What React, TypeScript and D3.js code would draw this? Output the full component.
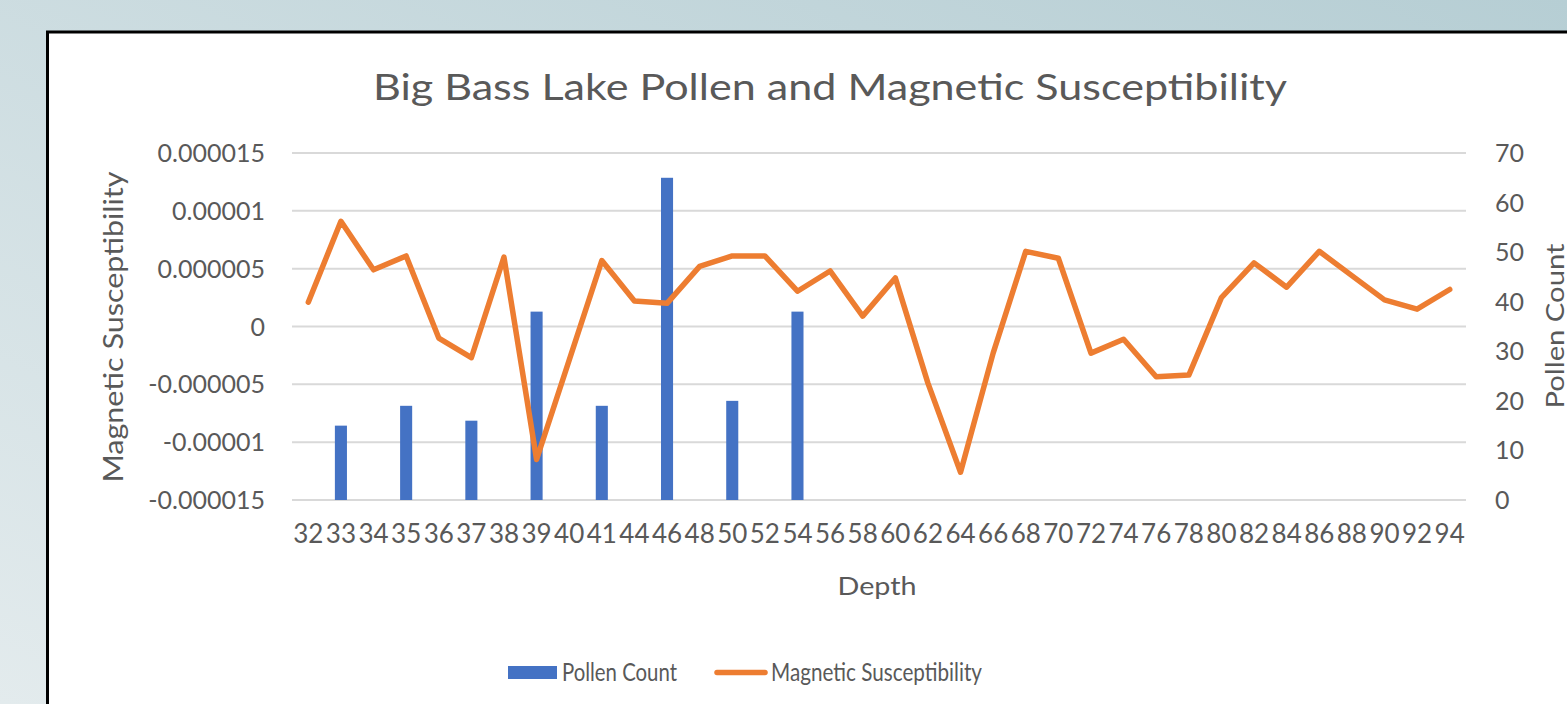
import React from "react";
import * as d3 from "d3";

const depths: string[] = [
  "32","33","34","35","36","37","38","39","40","41","44","46","48","50","52","54","56","58",
  "60","62","64","66","68","70","72","74","76","78","80","82","84","86","88","90","92","94",
];
const pollenCount: (number | null)[] = [
  null, 15, null, 19, null, 16, null, 38, null, 19, null, 65, null, 20, null, 38, null, null,
  null, null, null, null, null, null, null, null, null, null, null, null, null, null, null, null, null, null,
];
const magSusc: number[] = [
  2.1e-6, 9.1e-6, 4.9e-6, 6.1e-6, -1.0e-6, -2.7e-6, 6.0e-6, -11.5e-6, -2.9e-6, 5.7e-6, 2.2e-6, 2.0e-6,
  5.2e-6, 6.1e-6, 6.1e-6, 3.05e-6, 4.8e-6, 0.9e-6, 4.2e-6, -4.9e-6, -12.6e-6, -2.3e-6, 6.5e-6, 5.9e-6,
  -2.3e-6, -1.1e-6, -4.35e-6, -4.2e-6, 2.5e-6, 5.5e-6, 3.4e-6, 6.5e-6, 4.4e-6, 2.3e-6, 1.5e-6, 3.2e-6,
];
const leftTicks: number[] = [-0.000015, -0.00001, -0.000005, 0, 0.000005, 0.00001, 0.000015];
const leftTickLabels: string[] = ["-0.000015", "-0.00001", "-0.000005", "0", "0.000005", "0.00001", "0.000015"];
const rightTicks: number[] = [0, 10, 20, 30, 40, 50, 60, 70];

const W = 1567;
const H = 704;
const FONT = "Lato, 'Open Sans', sans-serif";
const TEXT = "#595959";

export default function App() {
  const x = d3.scaleBand<string>().domain(depths).range([292, 1466]);
  const yL = d3.scaleLinear().domain([-0.000015, 0.000015]).range([500, 153]);
  const yR = d3.scaleLinear().domain([0, 70]).range([500, 153]);
  const barW = x.bandwidth() * 0.37;
  const cx = (d: string) => (x(d) as number) + x.bandwidth() / 2;

  const line = d3
    .line<number>()
    .x((_, i) => cx(depths[i]))
    .y((v) => yL(v));

  return (
    <svg
      width={W}
      height={H}
      style={{ position: "absolute", left: 0, top: 0, display: "block" }}
      fontFamily={FONT}
    >
      <defs>
        <linearGradient id="bg" x1="1" y1="0" x2="0" y2="1">
          <stop offset="0" stopColor="#b6ced4" />
          <stop offset="1" stopColor="#e3ebed" />
        </linearGradient>
      </defs>
      <rect x={0} y={0} width={W} height={H} fill="url(#bg)" />
      <rect x={47.5} y={32} width={W} height={H} fill="#ffffff" stroke="#000000" strokeWidth={3} />

      {/* title */}
      <text
        x={830}
        y={100}
        textAnchor="middle"
        fontSize={37}
        fill={TEXT}
        textLength={914}
        lengthAdjust="spacingAndGlyphs"
      >
        Big Bass Lake Pollen and Magnetic Susceptibility
      </text>

      {/* gridlines */}
      {leftTicks.map((t, i) => (
        <line key={"g" + i} x1={292} x2={1466} y1={yL(t)} y2={yL(t)} stroke="#d9d9d9" strokeWidth={2} />
      ))}

      {/* left ticks */}
      {leftTicks.map((t, i) => (
        <text key={"l" + i} x={265} y={yL(t) + 9} textAnchor="end" fontSize={25} fill={TEXT}>
          {leftTickLabels[i]}
        </text>
      ))}

      {/* right ticks */}
      {rightTicks.map((t) => (
        <text key={"r" + t} x={1495} y={yR(t) + 9} textAnchor="start" fontSize={25} fill={TEXT}>
          {t}
        </text>
      ))}

      {/* bars */}
      {depths.map((d, i) =>
        pollenCount[i] == null ? null : (
          <rect
            key={"b" + d}
            x={cx(d) - barW / 2}
            y={yR(pollenCount[i] as number)}
            width={barW}
            height={yR(0) - yR(pollenCount[i] as number)}
            fill="#4472c4"
          />
        )
      )}

      {/* line */}
      <path
        d={line(magSusc) || ""}
        fill="none"
        stroke="#ed7d31"
        strokeWidth={5.5}
        strokeLinejoin="round"
        strokeLinecap="round"
      />

      {/* category labels */}
      {depths.map((d) => (
        <text key={"c" + d} x={cx(d)} y={543} textAnchor="middle" fontSize={26} fill={TEXT}>
          {d}
        </text>
      ))}

      {/* axis titles */}
      <text x={877} y={595} textAnchor="middle" fontSize={25} fill={TEXT} textLength={79} lengthAdjust="spacingAndGlyphs">
        Depth
      </text>
      <text
        transform={`translate(123,327) rotate(-90)`}
        textAnchor="middle"
        fontSize={26}
        fill={TEXT}
        textLength={311}
        lengthAdjust="spacingAndGlyphs"
      >
        Magnetic Susceptibility
      </text>
      <text
        transform={`translate(1564,326) rotate(-90)`}
        textAnchor="middle"
        fontSize={25}
        fill={TEXT}
        textLength={165}
        lengthAdjust="spacingAndGlyphs"
      >
        Pollen Count
      </text>

      {/* legend */}
      <rect x={508} y={666} width={49} height={13} fill="#4472c4" />
      <text x={562} y={681} fontSize={25} fill={TEXT} textLength={115} lengthAdjust="spacingAndGlyphs">
        Pollen Count
      </text>
      <line x1={717} x2={765} y1={672.5} y2={672.5} stroke="#ed7d31" strokeWidth={5.5} strokeLinecap="round" />
      <text x={771} y={681} fontSize={25} fill={TEXT} textLength={211} lengthAdjust="spacingAndGlyphs">
        Magnetic Susceptibility
      </text>
    </svg>
  );
}
